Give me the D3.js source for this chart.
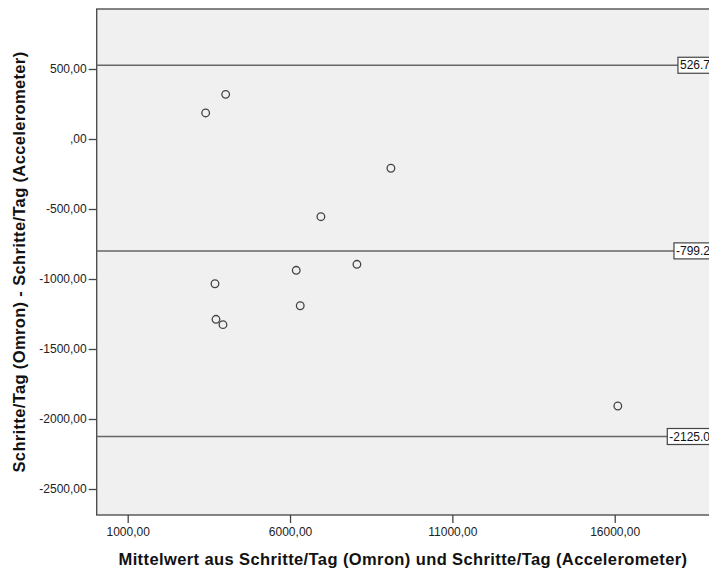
<!DOCTYPE html>
<html><head><meta charset="utf-8">
<script src="https://cdn.jsdelivr.net/npm/d3@7"></script>
<style>body{margin:0;background:#fff;} svg{display:block;font-family:"Liberation Sans",Arial,sans-serif;}</style>
</head><body><svg id="c" width="709" height="574"></svg>
<script>
const meanValues = [4017, 3401, 9107, 6951, 8060, 6191, 3688, 6314, 3719, 3934, 16096];
const diffValues = [319, 186, -209, -555, -895, -938, -1034, -1191, -1288, -1326, -1907];
const refLines = [526.7, -799.2, -2125.0];
const refLabels = ["526.7", "-799.2", "-2125.0"];
const xTicks = [1000, 6000, 11000, 16000];
const yTicks = [500, 0, -500, -1000, -1500, -2000, -2500];
const xTitle = "Mittelwert aus Schritte/Tag (Omron) und Schritte/Tag (Accelerometer)";
const yTitle = "Schritte/Tag (Omron) - Schritte/Tag (Accelerometer)";

const fmt = v => { const s = d3.format(".2f")(Math.abs(v)).replace(".", ","); const r = s.startsWith("0,") ? s.slice(1) : s; return (v < 0 ? "-" : "") + r; };

const svg = d3.select("#c");
const L = 96.7, T = 9, R = 730, B = 515;
const x = d3.scaleLinear().domain([1000, 16000]).range([127.7, 614.7]);
const y = d3.scaleLinear().domain([500, -2500]).range([69, 489]);

svg.append("rect").attr("x", L).attr("y", T).attr("width", R - L).attr("height", B - T)
  .attr("fill", "#f0f0f0").attr("stroke", "#444").attr("stroke-width", 1.3);

const yAxis = d3.axisLeft(y).tickValues(yTicks).tickFormat(fmt).tickSize(8).tickPadding(2);
const gy = svg.append("g").attr("transform", `translate(${L},0)`).call(yAxis);
gy.select(".domain").remove();
gy.selectAll("line").attr("stroke", "#444").attr("stroke-width", 1.3);
gy.selectAll("text").attr("font-size", 12).attr("fill", "#222");

const xAxis = d3.axisBottom(x).tickValues(xTicks).tickFormat(fmt).tickSize(8).tickPadding(4);
const gx = svg.append("g").attr("transform", `translate(0,${B})`).call(xAxis);
gx.select(".domain").remove();
gx.selectAll("line").attr("stroke", "#444").attr("stroke-width", 1.3);
gx.selectAll("text").attr("font-size", 12).attr("fill", "#222");

const labelRight = 712;
refLines.forEach((v, i) => {
  const yy = y(v);
  const g = svg.append("g");
  const t = g.append("text").attr("x", labelRight - 2).attr("y", yy + 4).attr("text-anchor", "end")
    .attr("font-size", 12).attr("fill", "#111").text(refLabels[i]);
  const w = t.node().getComputedTextLength();
  const bx = labelRight - w - 4;
  g.insert("rect", "text").attr("x", bx).attr("y", yy - 8).attr("width", w + 6).attr("height", 16)
    .attr("fill", "#fff").attr("stroke", "#444").attr("stroke-width", 1.2);
  svg.insert("line", "g").attr("x1", L).attr("x2", bx).attr("y1", yy).attr("y2", yy)
    .attr("stroke", "#666").attr("stroke-width", 1.5);
});

svg.append("g").selectAll("circle").data(meanValues).join("circle")
  .attr("cx", d => x(d)).attr("cy", (d, i) => y(diffValues[i])).attr("r", 3.8)
  .attr("fill", "none").attr("stroke", "#444").attr("stroke-width", 1.3);

function fit(sel, target) {
  const w = sel.node().getComputedTextLength();
  const n = sel.text().length;
  sel.attr("letter-spacing", (target - w) / n);
}
const xt = svg.append("text").attr("x", 403).attr("y", 565).attr("text-anchor", "middle")
  .attr("font-size", 16.5).attr("font-weight", "bold").attr("fill", "#111").text(xTitle);
fit(xt, 569);
const yt = svg.append("text").attr("transform", "translate(25,262) rotate(-90)").attr("text-anchor", "middle")
  .attr("font-size", 16.5).attr("font-weight", "bold").attr("fill", "#111").text(yTitle);
fit(yt, 421);
</script></body></html>
